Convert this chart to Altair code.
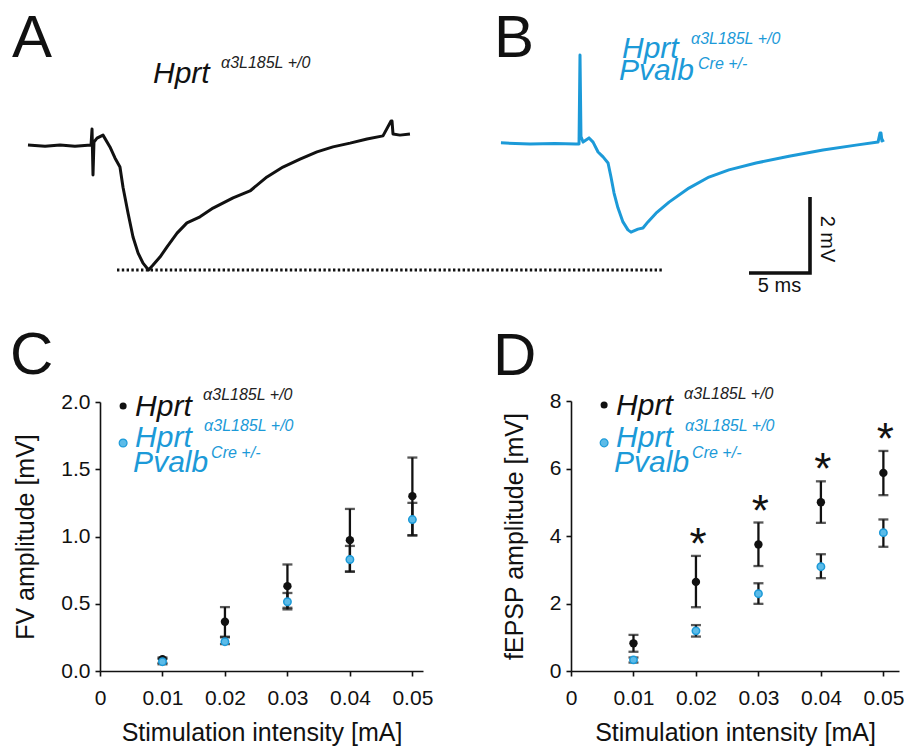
import altair as alt
import pandas as pd

# ------------------------------------------------------------------ data
# A: field response, Hprt a3L185L +/0  (time [ms] from stimulus, voltage [mV])
a_time = [-5.33, -3.93, -2.70, -1.48, -0.16, -0.08, 0.0, 0.08, 0.33, 0.82, 1.39, 1.80,
          2.21, 2.46, 2.87, 3.28, 3.69, 4.10, 4.55, 4.92, 5.49, 6.07, 6.89, 7.70, 8.77,
          9.84, 11.48, 12.87, 14.26, 15.57, 16.97, 18.36, 19.67, 21.07, 22.46, 23.77,
          24.43, 24.51, 24.59, 25.16, 25.98]
a_volt = [0.0, -0.03, 0.0, -0.03, 0.0, 0.42, -0.79, 0.08, 0.18, 0.26, -0.05, -0.34,
          -0.58, -1.11, -1.79, -2.42, -2.84, -3.11, -3.29, -3.16, -2.95, -2.68, -2.32, -2.05, -1.89,
          -1.66, -1.39, -1.21, -0.84, -0.58, -0.37, -0.18, -0.05, 0.05, 0.16, 0.24,
          0.63, 0.63, 0.29, 0.26, 0.29]

# B: field response, Hprt a3L185L +/0 ; Pvalb Cre +/-
b_time = [-6.48, -4.10, -2.05, -0.33, -0.08, 0.0, 0.08, 0.25, 0.74, 1.07,
          1.48, 1.89, 2.30, 2.54, 2.79, 3.11, 3.52, 3.93, 4.18, 4.75,
          5.16, 5.57, 6.23, 7.30, 8.93, 10.57, 12.21, 14.43, 17.13, 19.92,
          22.62, 24.43, 24.59, 24.67, 24.75, 24.92]
b_volt = [0.03, 0.0, 0.01, 0.0, 0.0, 2.34, 0.2, 0.05, 0.16, 0.05,
          -0.21, -0.34, -0.50, -0.87, -1.29, -1.68, -2.05, -2.26, -2.32, -2.24,
          -2.21, -2.05, -1.82, -1.53, -1.16, -0.87, -0.68, -0.50, -0.32, -0.16,
          -0.03, 0.05, 0.29, 0.29, 0.08, 0.11]

scalebar_ms = 5
scalebar_mv = 2

intensity = [0.01, 0.02, 0.03, 0.04, 0.05]

# C: fibre volley amplitude [mV]
fv_ctrl = [0.087, 0.366, 0.631, 0.973, 1.30]
fv_ctrl_lo = [0.06, 0.255, 0.458, 0.738, 1.007]
fv_ctrl_hi = [0.10, 0.475, 0.792, 1.205, 1.587]
fv_pv = [0.069, 0.218, 0.515, 0.829, 1.126]
fv_pv_lo = [0.05, 0.20, 0.47, 0.74, 1.01]
fv_pv_hi = [0.09, 0.25, 0.58, 0.93, 1.25]

# D: fEPSP amplitude [mV]
ep_ctrl = [0.82, 2.64, 3.75, 5.00, 5.87]
ep_ctrl_lo = [0.57, 1.89, 3.11, 4.39, 5.21]
ep_ctrl_hi = [1.07, 3.41, 4.40, 5.62, 6.52]
ep_pv = [0.33, 1.19, 2.29, 3.09, 4.10]
ep_pv_lo = [0.25, 1.02, 1.99, 2.75, 3.68]
ep_pv_hi = [0.40, 1.36, 2.60, 3.46, 4.49]

significant = [False, True, True, True, True]

gene = "Hprt"
allele = "\u03b13L185L +/0"
gene2 = "Pvalb"
allele2 = "Cre +/-"
x_ticks = [0, 0.01, 0.02, 0.03, 0.04, 0.05]
fv_ticks = [0, 0.5, 1.0, 1.5, 2.0]
ep_ticks = [0, 2, 4, 6, 8]

# ------------------------------------------------------------------ style / layout
FONT = "Liberation Sans, Arial, Helvetica, sans-serif"
BLUE = "#1c9ad8"
BLUE_FILL = "#5cbbe8"
BLACK = "#111111"
OFF = 8          # page margin
W, H = 896, 741
PX_MS, PX_MV = 12.2, 38.0
SUP = 16
ONE = pd.DataFrame({"k": [0]})


def trace_scales(stim_x, base_y, tdom, vdom):
    xs = alt.Scale(domain=tdom, range=[stim_x + tdom[0] * PX_MS - OFF, stim_x + tdom[1] * PX_MS - OFF],
                   nice=False, zero=False)
    ys = alt.Scale(domain=vdom, range=[base_y - vdom[0] * PX_MV - OFF, base_y - vdom[1] * PX_MV - OFF],
                   nice=False, zero=False)
    return xs, ys


AX, AY = trace_scales(93, 145, [-6, 48], [-4, 1.5])
BX, BY = trace_scales(580, 144, [-7, 30], [-3.5, 2.5])

CX = alt.Scale(domain=[0, 0.0517], range=[100 - OFF, 423 - OFF], nice=False, zero=False)
CY = alt.Scale(domain=[0, 2], range=[671 - OFF, 402 - OFF], nice=False, zero=False)
DX = alt.Scale(domain=[0, 0.0525], range=[571 - OFF, 899 - OFF], nice=False, zero=False)
DY = alt.Scale(domain=[0, 8], range=[671 - OFF, 401 - OFF], nice=False, zero=False)


def page_text(text, x, y, size, color=BLACK, italic=False, align="left", baseline="alphabetic"):
    return alt.Chart(ONE).mark_text(
        text=text, font=FONT, fontSize=size, fontStyle="italic" if italic else "normal",
        color=color, align=align, baseline=baseline
    ).encode(x=alt.value(x - OFF), y=alt.value(y - OFF))


def xq(field, scale, axis=None):
    return alt.X(field, type="quantitative", scale=scale, axis=axis)


def yq(field, scale, axis=None):
    return alt.Y(field, type="quantitative", scale=scale, axis=axis)


def trace(t, v, xs, ys, color):
    df = pd.DataFrame({"t": t, "v": v, "i": range(len(t))})
    return alt.Chart(df).mark_line(color=color, strokeWidth=3, strokeJoin="round").encode(
        x=xq("t", xs), y=yq("v", ys), order="i:Q")


def axis_common():
    return dict(grid=False, labelFlush=False, labelOverlap=False, tickSize=5, tickWidth=1.6,
                domainWidth=1.6, domainColor=BLACK, tickColor=BLACK, labelFont=FONT,
                labelFontSize=21, labelColor=BLACK, titleFont=FONT, titleFontSize=25,
                titleFontWeight="normal", titleColor=BLACK)


def dose_panel(xs, ys, ctrl, c_lo, c_hi, pv, p_lo, p_hi, x_off, yvals, yfmt, ytitle,
               leg_x, leg_y1, leg_y2, stars):
    layers = []
    bars = pd.DataFrame({"x": intensity * 2, "lo": c_lo + p_lo, "hi": c_hi + p_hi})
    caps = pd.DataFrame({"x": intensity * 4, "v": c_lo + c_hi + p_lo + p_hi})
    layers.append(alt.Chart(bars).mark_rule(color=BLACK, strokeWidth=2.3).encode(
        x=xq("x", xs), y=yq("lo", ys), y2="hi:Q"))
    layers.append(alt.Chart(caps).mark_tick(orient="horizontal", color=BLACK, size=10, thickness=2.3).encode(
        x=xq("x", xs), y=yq("v", ys)))
    xaxis = alt.Axis(orient="bottom", offset=(671 - OFF) - H, values=x_ticks, format=".2~f",
                     title="Stimulation intensity [mA]", labelPadding=11, titlePadding=12, **axis_common())
    yaxis = alt.Axis(orient="left", offset=-x_off, values=yvals, format=yfmt, title=ytitle,
                     labelPadding=5, titlePadding=22, **axis_common())
    layers.append(alt.Chart(pd.DataFrame({"x": intensity, "y": ctrl})).mark_circle(
        color=BLACK, opacity=1, size=70).encode(x=xq("x", xs, xaxis), y=yq("y", ys, yaxis)))
    layers.append(alt.Chart(pd.DataFrame({"x": intensity, "y": pv})).mark_circle(
        fill=BLUE_FILL, stroke=BLUE, strokeWidth=1.5, opacity=1, size=55).encode(
        x=xq("x", xs), y=yq("y", ys)))
    if stars:
        sdf = pd.DataFrame({"x": [x for x, s in zip(intensity, significant) if s],
                            "y": [h for h, s in zip(c_hi, significant) if s]})
        layers.append(alt.Chart(sdf).mark_text(text="*", font=FONT, fontSize=44, color=BLACK,
                                               align="center", baseline="alphabetic", dx=2, dy=3).encode(
            x=xq("x", xs), y=yq("y", ys)))
    # legend
    l1 = pd.DataFrame({"x": [leg_x], "y": [leg_y1]})
    l2 = pd.DataFrame({"x": [leg_x], "y": [leg_y2]})
    layers.append(alt.Chart(l1).mark_circle(color=BLACK, opacity=1, size=50).encode(
        x=xq("x", xs), y=yq("y", ys)))
    layers.append(alt.Chart(l2).mark_circle(fill=BLUE_FILL, stroke=BLUE, strokeWidth=1.2,
                                            opacity=1, size=62).encode(x=xq("x", xs), y=yq("y", ys)))

    def ltxt(df, text, dx, dy, size, color):
        return alt.Chart(df).mark_text(text=text, font=FONT, fontSize=size, fontStyle="italic",
                                       color=color, align="left", baseline="alphabetic",
                                       dx=dx, dy=dy).encode(x=xq("x", xs), y=yq("y", ys))
    layers += [ltxt(l1, gene, 12, 10, 30, BLACK), ltxt(l1, allele, 80, -6, SUP, "#222222"),
               ltxt(l2, gene, 12, 4, 30, BLUE), ltxt(l2, allele, 81, -12, SUP, BLUE),
               ltxt(l2, gene2, 10, 29, 30, BLUE), ltxt(l2, allele2, 88, 15, SUP, BLUE)]
    return layers


layers = []
# ---- A
layers.append(trace(a_time, a_volt, AX, AY, BLACK))
trough = min(a_volt)
dot_df = pd.DataFrame({"t": [(117 - 93) / PX_MS], "t2": [(663 - 93) / PX_MS], "v": [trough]})
layers.append(alt.Chart(dot_df).mark_rule(color=BLACK, strokeWidth=2.8, strokeDash=[2.4, 2.4]).encode(
    x=xq("t", AX), x2="t2:Q", y=yq("v", AY)))
layers += [page_text("A", 12, 57, 60), page_text(gene, 153, 83, 30, italic=True),
           page_text(allele, 221, 68, SUP, color="#222222", italic=True)]

# ---- B
layers.append(trace(b_time, b_volt, BX, BY, BLUE))
corner_t = (810 - 580) / PX_MS
corner_v = (144 - 273) / PX_MV
sb = pd.DataFrame({"t": [corner_t - scalebar_ms, corner_t, corner_t],
                   "v": [corner_v, corner_v, corner_v + scalebar_mv], "i": [0, 1, 2]})
layers.append(alt.Chart(sb).mark_line(color=BLACK, strokeWidth=3.6, strokeJoin="miter", strokeCap="butt").encode(
    x=xq("t", BX), y=yq("v", BY), order="i:Q"))
layers.append(alt.Chart(pd.DataFrame({"t": [corner_t - scalebar_ms / 2], "v": [corner_v]})).mark_text(
    text=f"{scalebar_ms} ms", font=FONT, fontSize=20, color=BLACK, align="center", baseline="alphabetic", dy=19
).encode(x=xq("t", BX), y=yq("v", BY)))
layers.append(alt.Chart(pd.DataFrame({"t": [corner_t + 17 / PX_MS], "v": [corner_v + scalebar_mv / 2 - 4 / PX_MV]})).mark_text(
    text=f"{scalebar_mv} mV", font=FONT, fontSize=20, color=BLACK, align="center", baseline="middle", angle=90
).encode(x=xq("t", BX), y=yq("v", BY)))
layers += [page_text("B", 494, 57, 60),
           page_text(gene, 622, 58, 30, color=BLUE, italic=True),
           page_text(allele, 691, 44, SUP, color=BLUE, italic=True),
           page_text(gene2, 619, 80, 30, color=BLUE, italic=True),
           page_text(allele2, 698, 69, SUP, color=BLUE, italic=True)]

# ---- C
layers += dose_panel(CX, CY, fv_ctrl, fv_ctrl_lo, fv_ctrl_hi, fv_pv, fv_pv_lo, fv_pv_hi,
                     100 - OFF, fv_ticks, ".1f", "FV amplitude [mV]",
                     0.0037, 1.97, 1.695, False)
layers.append(page_text("C", 10, 374, 60))

# ---- D
layers += dose_panel(DX, DY, ep_ctrl, ep_ctrl_lo, ep_ctrl_hi, ep_pv, ep_pv_lo, ep_pv_hi,
                     571 - OFF, ep_ticks, "d", "fEPSP amplitude [mV]",
                     0.0053, 7.88, 6.76, True)
layers.append(page_text("D", 493, 375, 60))

chart = alt.layer(*layers).resolve_scale(x="independent", y="independent").properties(
    width=W, height=H, autosize=alt.AutoSizeParams(type="none"), padding=0
).configure_view(stroke=None)

chart.save("out.html", embed_options={"renderer": "svg", "actions": False})
